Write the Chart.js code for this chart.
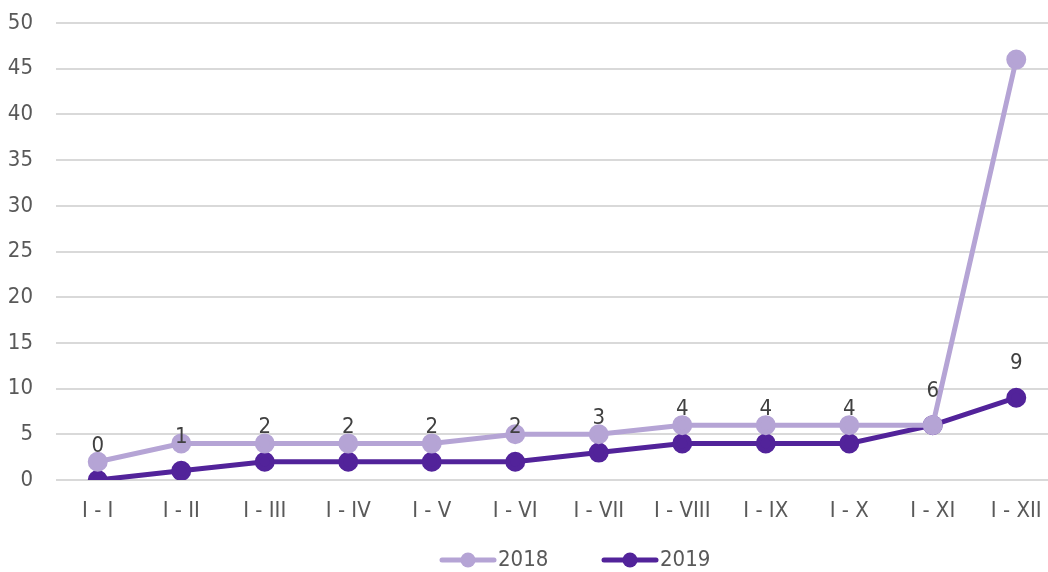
<!DOCTYPE html>
<html>
<head>
<meta charset="utf-8">
<script src="https://cdn.jsdelivr.net/npm/chart.js@4/dist/chart.umd.min.js"></script>
<style>
html,body{margin:0;padding:0;background:#fff;overflow:hidden;}
#wrap{width:1048px;height:572px;position:relative;overflow:hidden;}
#c{display:block;width:1060px;height:572px;}
</style>
</head>
<body>
<div id="wrap"><canvas id="c" width="1060" height="572" style="width:1060px;height:572px"></canvas></div>
<script>
const categories = ["I - I","I - II","I - III","I - IV","I - V","I - VI","I - VII","I - VIII","I - IX","I - X","I - XI","I - XII"];
const values2018 = [2,4,4,4,4,5,5,6,6,6,6,46];
const values2019 = [0,1,2,2,2,2,3,4,4,4,6,9];
const seriesNames = ["2018","2019"];
const yTicks = [0,5,10,15,20,25,30,35,40,45,50];

const c2018 = "#B5A4D5";
const c2019 = "#52239A";
const FONT = "'Liberation Sans Narrow','DejaVu Sans Condensed','Roboto',sans-serif";

const labelPlugin = {
  id:'labels2019',
  afterDatasetsDraw(chart){
    const meta = chart.getDatasetMeta(1);
    const ctx = chart.ctx;
    ctx.save();
    ctx.font = "22px " + FONT;
    ctx.fillStyle = "#404040";
    ctx.textAlign = 'center';
    ctx.textBaseline = 'middle';
    meta.data.forEach((p,i)=>{
      ctx.fillText(String(values2019[i]), p.x, p.y - 34);
    });
    ctx.restore();
  }
};

const legendPlugin = {
  id:'customLegend',
  afterDraw(chart){
    const ctx = chart.ctx;
    const items = [
      {name:seriesNames[0], color:c2018, x:440},
      {name:seriesNames[1], color:c2019, x:602}
    ];
    const y = 560;
    ctx.save();
    items.forEach(it=>{
      ctx.strokeStyle = it.color; ctx.lineWidth = 5; ctx.lineCap = 'round';
      ctx.beginPath(); ctx.moveTo(it.x+2,y); ctx.lineTo(it.x+54,y); ctx.stroke();
      ctx.fillStyle = it.color; ctx.beginPath(); ctx.arc(it.x+28,y,7.5,0,Math.PI*2); ctx.fill();
      ctx.fillStyle = "#595959"; ctx.font = "22px " + FONT;
      ctx.textAlign = 'left'; ctx.textBaseline = 'middle';
      ctx.fillText(it.name, it.x+58, y);
    });
    ctx.restore();
  }
};

new Chart(document.getElementById('c'), {
  type:'line',
  data:{
    labels: categories,
    datasets:[
      {label:seriesNames[0], data:values2018, borderColor:c2018, backgroundColor:c2018, borderWidth:5, pointRadius:7.5, pointHoverRadius:7.5, pointStyle:'circle', tension:0},
      {label:seriesNames[1], data:values2019, borderColor:c2019, backgroundColor:c2019, borderWidth:5, pointRadius:7.5, pointHoverRadius:7.5, pointStyle:'circle', tension:0}
    ]
  },
  options:{
    responsive:false,
    animation:false,
    layout:{autoPadding:false, padding:{left:0,right:2,top:23,bottom:40}},
    plugins:{
      tooltip:{enabled:false},
      legend:{display:false}
    },
    scales:{
      x:{
        offset:true,
        grid:{display:false},
        border:{display:false},
        afterFit(s){ s.height = 52; s.paddingLeft = 0; s.paddingRight = 0; },
        ticks:{color:"#595959", font:{family:FONT,size:22}, padding:10, maxRotation:0, autoSkip:false}
      },
      y:{
        min:0,max:50,
        afterFit(s){ s.width = 56; s.paddingTop = 0; s.paddingBottom = 0; },
        afterBuildTicks(s){ s.ticks = yTicks.map(v=>({value:v})); },
        grid:{color:"#D9D9D9", lineWidth:2, drawTicks:false},
        border:{display:false},
        ticks:{color:"#595959", font:{family:FONT,size:22}, padding:23}
      }
    }
  },
  plugins:[labelPlugin, legendPlugin]
});
</script>
</body>
</html>
